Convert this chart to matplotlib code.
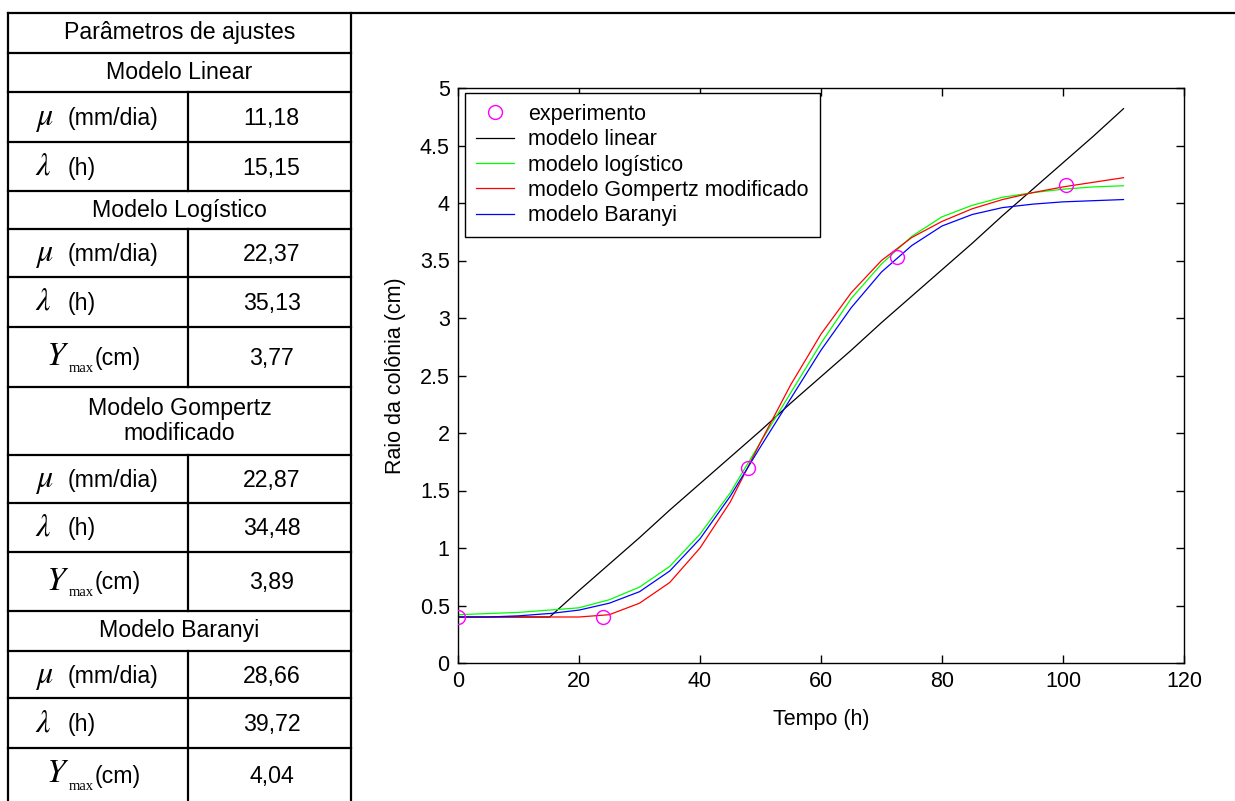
import numpy as np
import matplotlib
matplotlib.use('Agg')
import matplotlib.pyplot as plt

plt.rcParams['font.family'] = ['Liberation Sans', 'DejaVu Sans']
plt.rcParams['mathtext.fontset'] = 'stix'

# experimental points
t_exp = [0, 24, 48, 72.5, 100.5]
r_exp = [0.40, 0.40, 1.70, 3.53, 4.16]

# model curves
t_mod = [0, 5, 10, 15, 15.15, 20, 25, 30, 35, 40, 45, 50, 55, 60, 65, 70, 75, 80, 85, 90, 95, 100, 105, 110]
r_linear = [0.40, 0.40, 0.40, 0.40, 0.40, 0.63, 0.86, 1.09, 1.33, 1.56, 1.79, 2.02, 2.26, 2.49, 2.72, 2.96, 3.19, 3.42, 3.65, 3.89, 4.12, 4.35, 4.58, 4.82]
r_logist = [0.42, 0.43, 0.44, 0.46, 0.46, 0.48, 0.55, 0.66, 0.84, 1.12, 1.48, 1.92, 2.35, 2.78, 3.17, 3.47, 3.71, 3.88, 3.98, 4.05, 4.09, 4.12, 4.14, 4.15]
r_gompertz = [0.40, 0.40, 0.40, 0.40, 0.40, 0.40, 0.42, 0.52, 0.70, 1.00, 1.40, 1.92, 2.42, 2.86, 3.22, 3.50, 3.70, 3.84, 3.95, 4.03, 4.09, 4.14, 4.18, 4.22]
r_baranyi = [0.40, 0.40, 0.41, 0.43, 0.43, 0.46, 0.52, 0.62, 0.80, 1.08, 1.45, 1.88, 2.30, 2.72, 3.09, 3.40, 3.63, 3.80, 3.90, 3.96, 3.99, 4.01, 4.02, 4.03]

legend_labels = ['experimento', 'modelo linear', 'modelo logístico',
                 'modelo Gompertz modificado', 'modelo Baranyi']
x_ticks = [0, 20, 40, 60, 80, 100, 120]
y_ticks = [0, 0.5, 1, 1.5, 2, 2.5, 3, 3.5, 4, 4.5, 5]
y_ticklabels = ['0', '0.5', '1', '1.5', '2', '2.5', '3', '3.5', '4', '4.5', '5']

# parameter table
table_rows = [
    ('Parâmetros de ajustes', None),
    ('Modelo Linear', None),
    ('mu', '11,18'),
    ('lambda', '15,15'),
    ('Modelo Logístico', None),
    ('mu', '22,37'),
    ('lambda', '35,13'),
    ('ymax', '3,77'),
    ('Modelo Gompertz\nmodificado', None),
    ('mu', '22,87'),
    ('lambda', '34,48'),
    ('ymax', '3,89'),
    ('Modelo Baranyi', None),
    ('mu', '28,66'),
    ('lambda', '39,72'),
    ('ymax', '4,04'),
]
row_edges = [13, 53, 92, 142, 191, 229, 277, 327, 387, 455, 503, 552, 611, 651, 698, 748, 801]

fig = plt.figure(figsize=(12.35, 8.01), dpi=100)

# --- table drawn in pixel coordinates on an overlay axes
tb = fig.add_axes([0, 0, 1, 1])
tb.set_xlim(0, 1235)
tb.set_ylim(801, 0)
tb.axis('off')
lw = 1.6
x_left, x_mid, x_right = 8, 188, 351
tb.plot([x_left, 1235], [13, 13], color='k', lw=lw)
tb.plot([x_left, x_left], [13, 801], color='k', lw=lw)
tb.plot([x_right, x_right], [13, 801], color='k', lw=lw)
fs = 16.7
for i, (name, val) in enumerate(table_rows):
    y0, y1 = row_edges[i], row_edges[i + 1]
    yc = (y0 + y1) / 2
    if i > 0:
        tb.plot([x_left, x_right], [y0, y0], color='k', lw=lw)
    if val is None:
        tb.text((x_left + x_right) / 2, yc, name, ha='center', va='center',
                fontsize=fs, linespacing=1.15)
        continue
    tb.plot([x_mid, x_mid], [y0, y1], color='k', lw=lw)
    base = yc + 8
    if name == 'mu':
        tb.text(35, base, r'$\mu$', fontsize=23, ha='left', va='baseline')
        tb.text(68, base, '(mm/dia)', fontsize=fs, ha='left', va='baseline')
    elif name == 'lambda':
        tb.text(35, base, r'$\lambda$', fontsize=23, ha='left', va='baseline')
        tb.text(68, base, '(h)', fontsize=fs, ha='left', va='baseline')
    else:
        tb.text(46, base, r'$Y$', fontsize=24, ha='left', va='baseline')
        tb.text(69, base + 7, 'max', fontsize=10.5, ha='left', va='baseline',
                family='Liberation Serif')
        tb.text(95, base, '(cm)', fontsize=fs, ha='left', va='baseline')
    tb.text((x_mid + x_right) / 2 + 2, base, val, fontsize=fs, ha='center', va='baseline')

# --- growth chart
ax = fig.add_axes([458 / 1235, (801 - 663) / 801, 726 / 1235, 575 / 801])
ax.plot(t_exp, r_exp, 'o', color='#ff00ff', mfc='none', ms=10, mew=1.0,
        zorder=5, label=legend_labels[0])
ax.plot(t_mod, r_linear, color='k', lw=0.9, label=legend_labels[1])
ax.plot(t_mod, r_logist, color='#00ff00', lw=0.9, label=legend_labels[2])
ax.plot(t_mod, r_gompertz, color='#ff0000', lw=0.9, label=legend_labels[3])
ax.plot(t_mod, r_baranyi, color='#0000ff', lw=0.9, label=legend_labels[4])

ax.set_xlim(0, 120)
ax.set_ylim(0, 5)
ax.set_xticks(x_ticks)
ax.set_yticks(y_ticks)
ax.set_yticklabels(y_ticklabels)
ax.tick_params(direction='in', top=True, right=True, length=6, width=1,
               labelsize=15.5, pad=6)
for s in ax.spines.values():
    s.set_linewidth(1.0)
ax.set_xlabel('Tempo (h)', fontsize=15.5, labelpad=12)
ax.set_ylabel('Raio da colônia (cm)', fontsize=15.5, labelpad=10)

leg = ax.legend(loc='upper left', bbox_to_anchor=(0.0096, 0.991), borderaxespad=0,
                fontsize=15.5, frameon=True, fancybox=False, edgecolor='k',
                framealpha=1, handlelength=1.8, handletextpad=0.65,
                labelspacing=0.2, borderpad=0.5)
leg.get_frame().set_linewidth(1.0)

fig.savefig('out.png', dpi=100)
